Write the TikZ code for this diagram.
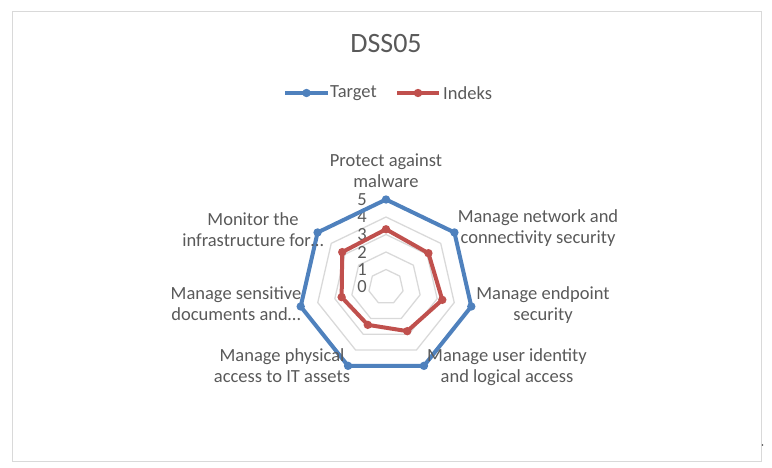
\documentclass[tikz,border=0pt]{standalone}
\usepackage{fontspec}
\setmainfont{Carlito}
\definecolor{txtgray}{HTML}{595959}
\definecolor{gridgray}{HTML}{D9D9D9}
\definecolor{framegray}{HTML}{D9D9D9}
\definecolor{targetblue}{HTML}{4F81BD}
\definecolor{indeksred}{HTML}{C0504D}
\tikzset{
	axislabel/.style={text=txtgray, font=\fontsize{18.5}{21}\selectfont, align=center, inner sep=0pt},
	ticklabel/.style={text=txtgray, font=\fontsize{18.5}{21}\selectfont, inner sep=0pt},
	gridline/.style={gridgray, line width=1.3pt, line join=round},
	targetline/.style={targetblue, line width=4pt, line join=round},
	indeksline/.style={indeksred, line width=4pt, line join=round},
}

\begin{document}
\begin{tikzpicture}[x=1pt,y=-1pt]
	\useasboundingbox (0,0) rectangle (772,467);
	\draw[framegray, line width=1pt] (12,11) rectangle (761,461);
	\fill[black!70] (762.5,445) circle (0.9);

	\node[text=txtgray, font=\fontsize{28}{32}\selectfont, inner sep=0pt] (title) at (386,44) {DSS05};

	% legend
	\coordinate (tgA) at (285,93);
	\coordinate (tgB) at (328,93);
	\draw[targetline] (tgA) -- (tgB);
	\fill[targetblue] (306.5,93) circle (4.2);
	\node[ticklabel, anchor=west] (tglabel) at (330,93) {Target};
	\coordinate (ixA) at (397,93);
	\coordinate (ixB) at (439,93);
	\draw[indeksline] (ixA) -- (ixB);
	\fill[indeksred] (418,93) circle (4.2);
	\node[ticklabel, anchor=west] (ixlabel) at (443,93) {Indeks};

	\begin{scope}[shift={(386,287)}]
		% grid
		\foreach \lv in {1,...,5}
			\draw[gridline] (-90:17.5*\lv) \foreach \k in {1,...,6} {-- (-90+\k*360/7:17.5*\lv)} -- cycle;

		\foreach \v in {0,...,5}
			\node[ticklabel] (tick\v) at (-24,-17.5*\v) {\v};

		% series
		\foreach \k in {0,...,6}
			\coordinate (t\k) at (-90+\k*360/7:87.5);
		\foreach \v [count=\k from 0] in {3.3,3.1,3.3,2.8,2.4,2.6,3.2}
			\coordinate (i\k) at (-90+\k*360/7:17.5*\v);

		\draw[targetline] (t0) -- (t1) -- (t2) -- (t3) -- (t4) -- (t5) -- (t6) -- cycle;
		\draw[indeksline] (i0) -- (i1) -- (i2) -- (i3) -- (i4) -- (i5) -- (i6) -- cycle;
		\foreach \k in {0,...,6} {
			\fill[targetblue] (t\k) circle (4.2);
			\fill[indeksred] (i\k) circle (4.2);
		}
	\end{scope}

	\node[axislabel] (malware) at (386,170.5) {Protect against\\malware};
	\node[axislabel] (network) at (538,228) {Manage network and\\connectivity security};
	\node[axislabel] (endpoint) at (543,305) {Manage endpoint\\security};
	\node[axislabel] (identity) at (507,367) {Manage user identity\\and logical access};
	\node[axislabel] (physical) at (282,365.5) {Manage physical\\access to IT assets};
	\node[axislabel] (documents) at (236,304) {Manage sensitive\\documents and…};
	\node[axislabel] (monitor) at (253,230) {Monitor the\\infrastructure for…};
\end{tikzpicture}
\end{document}
